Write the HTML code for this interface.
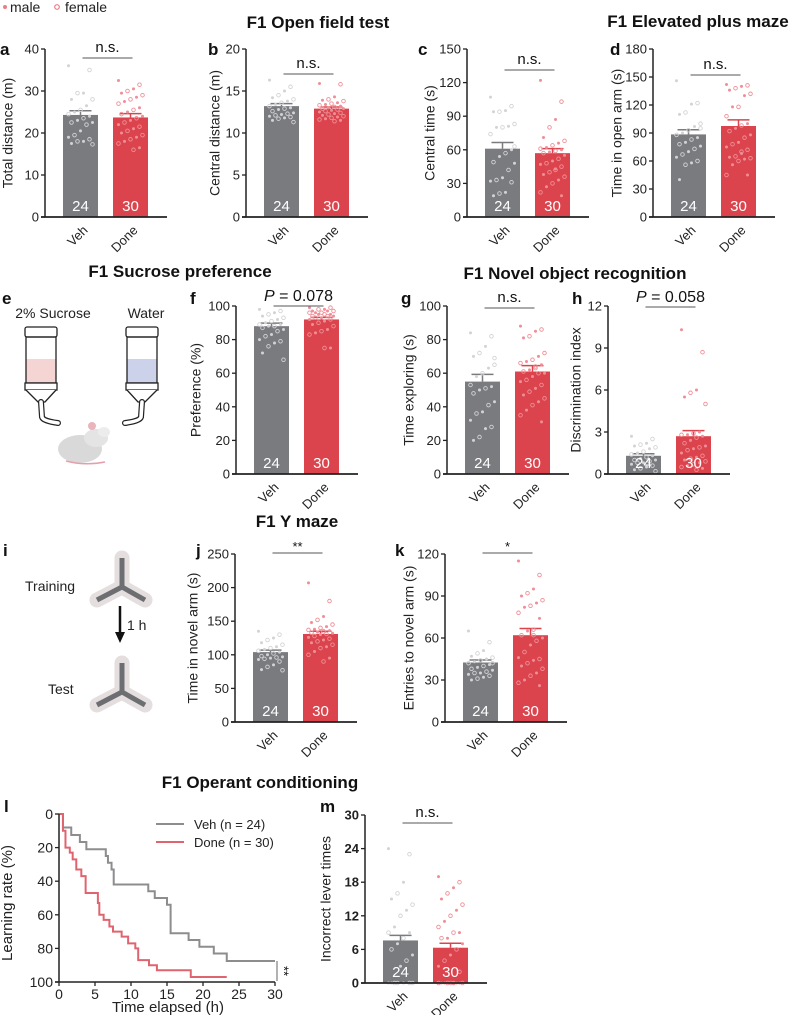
<!DOCTYPE html>
<html><head><meta charset="utf-8"><style>
html,body{margin:0;padding:0;background:#fff;}
svg{display:block;font-family:"Liberation Sans",Arial,sans-serif;}
</style></head><body>
<svg id="fig" width="789" height="1015" viewBox="0 0 789 1015" xmlns="http://www.w3.org/2000/svg">
 <g>
  <circle cx="5" cy="7" r="2" fill="#ee7b86"/>
  <text x="10" y="12" font-size="14" fill="#222">male</text>
  <circle cx="57" cy="7" r="2.3" fill="none" stroke="#ee7b86" stroke-width="1.2"/>
  <text x="65" y="12" font-size="14" fill="#222">female</text>
 </g>
 <g font-weight="bold" font-size="17" fill="#111" text-anchor="middle">
  <text x="318" y="28">F1 Open field test</text>
  <text x="698" y="27">F1 Elevated plus maze</text>
  <text x="180" y="277">F1 Sucrose preference</text>
  <text x="575" y="279">F1 Novel object recognition</text>
  <text x="297" y="527">F1 Y maze</text>
  <text x="260" y="788">F1 Operant conditioning</text>
 </g>
 <g font-weight="bold" font-size="17" fill="#111">
  <text x="0" y="55">a</text>
  <text x="208" y="55">b</text>
  <text x="418" y="55">c</text>
  <text x="610" y="55">d</text>
  <text x="2" y="304">e</text>
  <text x="190" y="304">f</text>
  <text x="401" y="304">g</text>
  <text x="572" y="304">h</text>
  <text x="3" y="556">i</text>
  <text x="196" y="556">j</text>
  <text x="395" y="556">k</text>
  <text x="4" y="812">l</text>
  <text x="320" y="812">m</text>
 </g>
 <!-- e illustration -->
 <g stroke="#222" stroke-width="1.3">
  <text x="53" y="318" font-size="14" fill="#222" stroke="none" text-anchor="middle">2% Sucrose</text>
  <text x="146" y="318" font-size="14" fill="#222" stroke="none" text-anchor="middle">Water</text>
  <g>
   <rect x="25" y="327" width="32" height="10" rx="2" fill="#fff"/>
   <rect x="26" y="359" width="30" height="24" fill="#f5d4d4" stroke="none"/>
   <rect x="26" y="337" width="30" height="46" fill="none"/>
   <rect x="25" y="383" width="32" height="7" fill="#fff"/>
   <path d="M26 390 L38 402 L45 402 L56 390" fill="#fff"/>
   <path d="M41 402 L42 417 Q43 421 58 423" fill="none" stroke="#222" stroke-width="6" stroke-linecap="round"/>
   <path d="M41 402 L42 417 Q43 421 58 423" fill="none" stroke="#fff" stroke-width="3.6" stroke-linecap="round"/>
  </g>
  <g>
   <rect x="126" y="327" width="32" height="10" rx="2" fill="#fff"/>
   <rect x="127" y="359" width="30" height="24" fill="#ccd2ea" stroke="none"/>
   <rect x="127" y="337" width="30" height="46" fill="none"/>
   <rect x="126" y="383" width="32" height="7" fill="#fff"/>
   <path d="M127 390 L138 402 L145 402 L157 390" fill="#fff"/>
   <path d="M142 402 L141 417 Q140 421 125 423" fill="none" stroke="#222" stroke-width="6" stroke-linecap="round"/>
   <path d="M142 402 L141 417 Q140 421 125 423" fill="none" stroke="#fff" stroke-width="3.6" stroke-linecap="round"/>
  </g>
  <g stroke="none">
   <ellipse cx="80" cy="449" rx="22" ry="14" fill="#d9d9d9"/>
   <ellipse cx="96" cy="438" rx="12" ry="9" fill="#e4e4e4"/>
   <ellipse cx="104" cy="432" rx="6" ry="5" fill="#ececec"/>
   <circle cx="92" cy="426" r="4" fill="#e8b5bd"/>
   <path d="M66 461 Q85 466 105 462" fill="none" stroke="#e4a0aa" stroke-width="1.5"/>
  </g>
 </g>
 <!-- i illustration -->
 <g>
  <text x="25" y="591" font-size="14" fill="#222">Training</text>
  <text x="48" y="694" font-size="14" fill="#222">Test</text>
  <path d="M122 558 L122 587 L97 600 M122 587 L145 600" fill="none" stroke="#e4dede" stroke-width="15" stroke-linejoin="round" stroke-linecap="round"/>
  <path d="M122 558 L122 587 L97 600 M122 587 L145 600" fill="none" stroke="#6d6e71" stroke-width="5"/>
  <path d="M122 663 L122 692 L97 705 M122 692 L145 705" fill="none" stroke="#e4dede" stroke-width="15" stroke-linejoin="round" stroke-linecap="round"/>
  <path d="M122 663 L122 692 L97 705 M122 692 L145 705" fill="none" stroke="#6d6e71" stroke-width="5"/>
  <line x1="120" y1="606" x2="120" y2="633" stroke="#111" stroke-width="2.5"/>
  <polygon points="115,632 125,632 120,643" fill="#111"/>
  <text x="127" y="630" font-size="14" fill="#222">1 h</text>
 </g>
 <g id="charts"></g>
</svg>
<script>
const cats = ['Veh','Done'];
const counts = ['24','30'];
// a
const aVeh=[36,35,29.5,29.5,28,28,26.5,25.5,25,24.5,24,23.5,23,22.5,22.5,22,20.5,19.5,19,18.5,18,18,17.5,17.3];
const aDone=[32.5,31.5,30.5,30,29.5,29,28.5,28,27.5,27,26,25.5,25,24.5,24,23.5,23,22.5,22,21.5,21,20.5,20,19.5,19,18.5,18,17.5,16.5,16];
const aMean=[24.3,23.7], aSem=[1.0,0.9];
// b
const bVeh=[16.3,15.5,15,14.5,14.2,14,13.8,13.6,13.4,13.2,13,12.9,12.8,12.6,12.4,12.3,12.2,12.1,12,11.9,11.8,11.7,11.5,11.3];
const bDone=[15.9,15.8,14.3,14,13.9,13.8,13.6,13.5,13.4,13.3,13.2,13.1,13,12.9,12.9,12.8,12.7,12.6,12.5,12.4,12.3,12.2,12.1,12,11.9,11.8,11.7,11.6,11.5,11.4];
const bMean=[13.2,12.9], bSem=[0.3,0.2];
// c
const cVeh=[107,99,95,94,94,83,81,80,80,74,60,57,54,49,48,42,35,33,32,31,22,21,19,63];
const cDone=[122,103,87,80,71,68,66,64,62,61,60,59,58,57,55,52,50,48,47,45,43,40,38,36,33,30,27,22,19,42];
const cMean=[61,57], cSem=[5.5,4];
// d
const dVeh=[146,122,121,112,110,100,97,93,90,88,85,83,80,78,76,73,70,67,64,60,58,56,40,95];
const dDone=[142,141,140,138,136,132,130,118,118,108,100,98,95,92,88,85,80,78,75,72,68,65,64,63,62,60,56,45,45,70];
const dMean=[88.5,97.5], dSem=[5,6.5];
// f
const fVeh=[98,97,96,95,94,93,92,91,90,89,89,88,88,87,86,85,83,82,80,79,78,76,72,68];
const fDone=[99,99,98,98,97,97,97,96,96,96,95,95,95,94,94,94,93,93,92,92,91,90,89,88,86,85,84,83,75,75];
const fMean=[88,92], fSem=[1.8,1.2];
// g
const gVeh=[84,82,76,72,70,69,63,60,58,53,52,51,50,48,43,41,37,36,32,28,27,22,20,65];
const gDone=[88,86,85,82,81,72,70,68,67,66,65,63,62,61,60,60,58,56,55,53,51,49,47,45,43,41,38,35,31,64];
const gMean=[55,61], gSem=[4.3,3.5];
// h
const hVeh=[2.7,2.5,2.2,2.1,2.0,1.9,1.8,1.6,1.5,1.4,1.3,1.2,1.1,1.0,1.0,0.9,0.8,0.8,0.7,0.6,0.5,0.4,0.3,0.2];
const hDone=[10.3,8.7,6.0,5.8,5.5,5.0,3.0,2.9,2.8,2.8,2.7,2.6,2.4,2.2,2.0,1.9,1.8,1.7,1.5,1.3,1.2,1.1,1.0,0.9,0.8,0.7,0.6,0.5,0.4,0.3];
const hMean=[1.3,2.7], hSem=[0.15,0.4];
// j
const jVeh=[135,130,125,122,118,115,112,110,108,106,104,102,100,98,97,96,95,94,93,90,85,82,78,77];
const jDone=[207,180,157,152,148,145,142,140,138,137,136,135,134,133,132,131,130,128,126,124,122,120,118,115,112,110,105,100,95,90];
const jMean=[104,131], jSem=[3,4];
// k
const kVeh=[65,57,51,49,47,46,45,44,43,42,41,40,39,38,37,36,35,35,34,33,32,31,30,42];
const kDone=[115,105,95,92,90,87,85,83,82,78,74,66,65,62,60,58,55,50,46,45,44,42,40,38,35,33,30,28,26,62];
const kMean=[42.5,62], kSem=[1.8,4.8];
// m
const mVeh=[24,23,18,16,15,14,13,12,10,9,9,8,7,6,5,4,3,0,0,0,0,0,0,0];
const mDone=[19,18,17,16,15,14,13,12,11,10,9,9,8,8,7,6,5,4,3,2,0,0,0,0,0,0,0,0,0,0];
const mMean=[7.6,6.3], mSem=[0.9,0.8];
// l survival
const vehTimes=[0.55,1.7,2.9,3.8,6.5,6.8,7.3,7.6,12.4,13.3,15,15.5,18,19.5,21.5,23.3];
const vehRate=[8,12.5,16.7,21,25,29,33,42,46,50,54,71,75,79,83,87.5];
const vehEnd=30;
const doneTimes=[0.55,0.9,1.5,1.9,2.4,3.1,3.7,5.4,5.6,6.2,7,7.5,8.7,9.6,10.6,11,12.5,13.6,18.3];
const doneRate=[10,20,23,27,33,37,47,53,60,63,67,70,73,77,80,87,90,93,97];
const doneEnd=23.3;
const lXTicks=[0,5,10,15,20,25,30];
const lYTicks=[0,20,40,60,80,100];

const NS='http://www.w3.org/2000/svg';
const root=document.getElementById('charts');
function mk(parent,tag,attrs,name,txt){
  const el=document.createElementNS(NS,tag);
  for(const k in attrs) el.setAttribute(k,attrs[k]);
  
  
  if(txt!==undefined) el.textContent=txt;
  parent.appendChild(el);
  return el;
}
const GREY='#7a7b7f', RED='#db444d', GDOT='#d3d3d6', RDOT='#f08e97';

const panels=[
 {id:'a',ax:45,top:49,bot:217,max:40,step:10,ylabel:'Total distance (m)',ylx:36,sig:'n.s.',sigY:58,veh:aVeh,done:aDone,mean:aMean,sem:aSem},
 {id:'b',ax:246,top:49,bot:217,max:20,step:5,ylabel:'Central distance (m)',ylx:30,sig:'n.s.',sigY:74,veh:bVeh,done:bDone,mean:bMean,sem:bSem},
 {id:'c',ax:467,top:49,bot:217,max:150,step:30,ylabel:'Central time (s)',ylx:36,sig:'n.s.',sigY:70,veh:cVeh,done:cDone,mean:cMean,sem:cSem},
 {id:'d',ax:653,top:49,bot:217,max:180,step:30,ylabel:'Time in open arm (s)',ylx:35,sig:'n.s.',sigY:75,veh:dVeh,done:dDone,mean:dMean,sem:dSem},
 {id:'f',ax:236,top:306,bot:474,max:100,step:20,ylabel:'Preference (%)',ylx:39,sig:'P',sigText:' = 0.078',sigY:306,veh:fVeh,done:fDone,mean:fMean,sem:fSem},
 {id:'g',ax:447,top:306,bot:474,max:100,step:20,ylabel:'Time exploring (s)',ylx:37,sig:'n.s.',sigY:308,veh:gVeh,done:gDone,mean:gMean,sem:gSem},
 {id:'h',ax:608,top:306,bot:474,max:12,step:3,ylabel:'Discrimination index',ylx:31,sig:'P',sigText:' = 0.058',sigY:307,veh:hVeh,done:hDone,mean:hMean,sem:hSem},
 {id:'j',ax:235,top:554,bot:722,max:250,step:50,ylabel:'Time in novel arm (s)',ylx:41,sig:'**',sigY:553,veh:jVeh,done:jDone,mean:jMean,sem:jSem},
 {id:'k',ax:445,top:554,bot:722,max:120,step:30,ylabel:'Entries to novel arm (s)',ylx:35,sig:'*',sigY:553,veh:kVeh,done:kDone,mean:kMean,sem:kSem},
 {id:'m',ax:365,top:815,bot:983,max:30,step:6,ylabel:'Incorrect  lever  times',ylx:38,sig:'n.s.',sigY:823,veh:mVeh,done:mDone,mean:mMean,sem:mSem,bold:true}
];

panels.forEach(p=>{
  const g=mk(root,'g',{},'panel-'+p.id);
  const y=v=>p.bot-(v/p.max)*(p.bot-p.top);
  const bx=[p.ax+18,p.ax+68], bw=35;
  const centers=bx.map(v=>v+bw/2);
  const data=[p.veh,p.done];
  // bars
  [0,1].forEach(i=>{
    const col=i?RED:GREY;
    mk(g,'rect',{x:bx[i],y:y(p.mean[i]),width:bw,height:p.bot-y(p.mean[i]),fill:col},'bar-'+p.id+'-'+cats[i].toLowerCase());
    const ye=y(p.mean[i]+p.sem[i]);
    mk(g,'line',{x1:centers[i],x2:centers[i],y1:y(p.mean[i]),y2:ye,stroke:col,'stroke-width':1.5},'error-bar-'+p.id+'-'+cats[i].toLowerCase());
    mk(g,'line',{x1:centers[i]-11,x2:centers[i]+11,y1:ye,y2:ye,stroke:col,'stroke-width':1.5},'error-cap-'+p.id+'-'+cats[i].toLowerCase());
  });
  // dots
  [0,1].forEach(i=>{
    const dc=i?RDOT:GDOT;
    data[i].forEach((v,k)=>{
      const off=(((k*7)%9)-4)*3;
      const cx=centers[i]+off, cy=y(v);
      if(k%2===0){
        mk(g,'circle',{cx:cx,cy:cy,r:1.5,fill:dc},'dot-male-'+p.id+'-'+cats[i].toLowerCase());
      } else {
        mk(g,'circle',{cx:cx,cy:cy,r:1.8,fill:'none',stroke:dc,'stroke-width':0.9},'dot-female-'+p.id+'-'+cats[i].toLowerCase());
      }
    });
    mk(g,'text',{x:centers[i],y:p.bot-6,'font-size':15,fill:'#fff','text-anchor':'middle'},'count-label-'+p.id+'-'+cats[i].toLowerCase(),counts[i]);
  });
  // axes
  mk(g,'line',{x1:p.ax,x2:p.ax,y1:p.top,y2:p.bot,stroke:'#222','stroke-width':1.5},'y-axis-'+p.id);
  mk(g,'line',{x1:p.ax-4,x2:p.ax+122,y1:p.bot,y2:p.bot,stroke:'#222','stroke-width':1.8},'x-axis-'+p.id);
  for(let v=0; v<=p.max+1e-9; v+=p.step){
    mk(g,'line',{x1:p.ax-4,x2:p.ax,y1:y(v),y2:y(v),stroke:'#222','stroke-width':1.3},'y-tick-'+p.id);
    mk(g,'text',{x:p.ax-6,y:y(v)+4.5,'font-size':13,fill:'#222','text-anchor':'end','font-weight':p.bold?'bold':'normal'},'y-tick-label-'+p.id,String(v));
  }
  [0,1].forEach(i=>{
    mk(g,'text',{x:centers[i]+8,y:p.bot+14,'font-size':13,fill:'#222','text-anchor':'end',transform:'rotate(-45 '+(centers[i]+8)+' '+(p.bot+14)+')'},'x-tick-label-'+p.id+'-'+cats[i].toLowerCase(),cats[i]);
  });
  const lx=p.ax-p.ylx, ly=(p.top+p.bot)/2;
  mk(g,'text',{x:lx,y:ly,'font-size':14,fill:'#222','text-anchor':'middle','dominant-baseline':'middle',transform:'rotate(-90 '+lx+' '+ly+')'},'y-axis-title-'+p.id,p.ylabel);
  // significance
  mk(g,'line',{x1:centers[0]+2,x2:centers[1]+2,y1:p.sigY,y2:p.sigY,stroke:'#555','stroke-width':1},'significance-line-'+p.id);
  const mx=(centers[0]+centers[1])/2+2;
  if(p.sig==='P'){
    const t=mk(g,'text',{x:mx,y:p.sigY-5,'font-size':16,fill:'#111','text-anchor':'middle'},'significance-label-'+p.id);
    const ts=document.createElementNS(NS,'tspan'); ts.setAttribute('font-style','italic'); ts.textContent='P';
    
    
    t.appendChild(ts); t.appendChild(document.createTextNode(p.sigText));
  } else {
    mk(g,'text',{x:mx,y:p.sigY-(p.sig.indexOf('*')>=0?2:6),'font-size':p.sig.indexOf('*')>=0?13:15,fill:'#111','text-anchor':'middle'},'significance-label-'+p.id,p.sig);
  }
});

// survival panel l
(function(){
  const g=mk(root,'g',{},'panel-l');
  const X0=59,X1=275,Y0=814,Y1=982;
  const x=t=>X0+t/30*(X1-X0);
  const y=p=>Y0+p/100*(Y1-Y0);
  function path(times,rates,end){
    let d='M'+x(0)+' '+y(0);
    times.forEach((t,i)=>{ d+=' H'+x(t)+' V'+y(rates[i]); });
    d+=' H'+x(end);
    return d;
  }
  mk(g,'path',{d:path(vehTimes,vehRate,vehEnd),fill:'none',stroke:'#8d8d90','stroke-width':2},'survival-line-veh');
  mk(g,'path',{d:path(doneTimes,doneRate,doneEnd),fill:'none',stroke:'#e0646f','stroke-width':2},'survival-line-done');
  mk(g,'line',{x1:X0,x2:X0,y1:Y0,y2:Y1,stroke:'#222','stroke-width':1.5},'y-axis-l');
  mk(g,'line',{x1:X0-4,x2:X1,y1:Y1,y2:Y1,stroke:'#222','stroke-width':1.5},'x-axis-l');
  lYTicks.forEach(v=>{
    mk(g,'line',{x1:X0-4,x2:X0,y1:y(v),y2:y(v),stroke:'#222','stroke-width':1.3},'y-tick-l');
    mk(g,'text',{x:X0-6,y:y(v)+5,'font-size':14,fill:'#222','text-anchor':'end'},'y-tick-label-l',String(v));
  });
  lXTicks.forEach(v=>{
    mk(g,'line',{x1:x(v),x2:x(v),y1:Y1,y2:Y1+4,stroke:'#222','stroke-width':1.3},'x-tick-l');
    mk(g,'text',{x:x(v),y:Y1+17,'font-size':14,fill:'#222','text-anchor':'middle'},'x-tick-label-l',String(v));
  });
  mk(g,'text',{x:168,y:1012,'font-size':15,fill:'#222','text-anchor':'middle'},'x-axis-title-l','Time elapsed (h)');
  mk(g,'text',{x:8,y:903,'font-size':15,fill:'#222','text-anchor':'middle','dominant-baseline':'middle',transform:'rotate(-90 8 903)'},'y-axis-title-l','Learning rate (%)');
  mk(g,'line',{x1:156,x2:184,y1:824,y2:824,stroke:'#8d8d90','stroke-width':2},'legend-line-veh');
  mk(g,'text',{x:194,y:829,'font-size':13,fill:'#222'},'legend-label-veh','Veh (n = 24)');
  mk(g,'line',{x1:156,x2:184,y1:842,y2:842,stroke:'#e0646f','stroke-width':2},'legend-line-done');
  mk(g,'text',{x:194,y:847,'font-size':13,fill:'#222'},'legend-label-done','Done (n = 30)');
  mk(g,'line',{x1:277,x2:277,y1:961,y2:981,stroke:'#666','stroke-width':1},'significance-bracket-l');
  mk(g,'text',{x:283,y:971,'font-size':13,fill:'#111','text-anchor':'middle','dominant-baseline':'middle',transform:'rotate(90 283 971)'},'significance-label-l','**');
})();
</script>
</body></html>
